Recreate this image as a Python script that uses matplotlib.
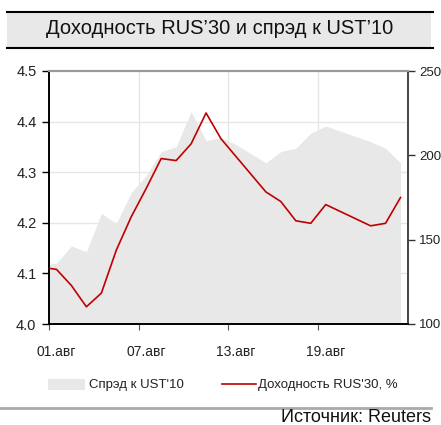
import numpy as np
import matplotlib
matplotlib.use("Agg")
from matplotlib import pyplot as plt
from matplotlib.patches import Rectangle
from matplotlib.lines import Line2D

plt.rcParams['font.family'] = ['Liberation Sans Narrow', 'Liberation Sans', 'DejaVu Sans']

# days: 31 Jul (0) .. 24 Aug
days = np.arange(0, 25)
rus30 = [4.112, 4.108, 4.076, 4.034, 4.061, 4.146, 4.212, 4.268, 4.327, 4.323,
         4.356, 4.417, 4.366, 4.331, 4.296, 4.261, 4.242, 4.204, 4.199, 4.236,
         4.222, 4.208, 4.194, 4.199, 4.250]
spread = [135, 136, 146.3, 142.9, 165.6, 159.6, 178, 188, 202.2, 205.1,
          226, 208.7, 210.5, 206.4, 201.0, 195.6, 202.2, 204.2, 213.1, 217.4,
          214.3, 211.2, 208.1, 204.2, 195.6]
tick_days = [1, 7, 13, 19]
tick_labels = ["01.авг", "07.авг", "13.авг", "19.авг"]

fig = plt.figure(figsize=(4.41, 4.25), dpi=100)

# title band
fig.patches.append(Rectangle((7/441, 1-47/425), 424/441, 36/425, transform=fig.transFigure,
                             facecolor="#e8e8e8", edgecolor="none", zorder=0))
fig.lines.append(Line2D([7/441, 433/441], [1-11.5/425]*2, transform=fig.transFigure, color="black", lw=1.5))
fig.lines.append(Line2D([7/441, 433/441], [1-47.5/425]*2, transform=fig.transFigure, color="black", lw=1.5))
fig.text(220/441, 1-29/425, "Доходность RUS’30 и спрэд к UST’10", ha="center", va="center",
         fontsize=14.5, color="#111111")

ax = fig.add_axes([49/441, 1-324/425, 359/441, 253/425])
ax2 = ax.twinx()
ax.set_zorder(ax2.get_zorder() + 1)
ax.patch.set_visible(False)

ax2.fill_between(days, spread, 100, color="#e8e8e8", lw=0, zorder=2)
ax2.set_ylim(100, 250)
ax2.set_yticks([100, 150, 200, 250])
ax.plot(days, rus30, color="#c00000", lw=1.2, zorder=3)
ax.set_ylim(4.0, 4.5)
ax.set_yticks([4.0, 4.1, 4.2, 4.3, 4.4, 4.5])
ax.set_xlim(days[1] - 0.5, days[-1] + 0.5)

# grid (behind the area)
for v in [4.1, 4.2, 4.3, 4.4]:
    ax2.axhline(100 + (v - 4.0) * 300, color="#e6e6e6", lw=1, zorder=1)
for d in tick_days[1:]:
    ax2.axvline(d - 0.5, color="#e6e6e6", lw=1, zorder=1)

ax.set_xticks([d - 0.5 for d in tick_days])
ax.set_xticklabels([])
ax.tick_params(axis="x", which="major", length=4, color="#555555", direction="out")
ax.set_xticks(tick_days, minor=True)
ax.set_xticklabels(tick_labels, minor=True)
ax.tick_params(axis="x", which="minor", length=0, labelsize=10, pad=15)
ax.tick_params(axis="y", length=5, width=1, labelsize=10.5, pad=4)
ax2.tick_params(axis="y", length=5, width=1, labelsize=9.5, pad=3, color="#333333")
for a in (ax, ax2):
    a.spines["top"].set_color("#999999")
    a.spines["top"].set_linewidth(1.5)
    a.spines["left"].set_color("black")
    a.spines["left"].set_linewidth(1.2)
    a.spines["bottom"].set_color("black")
    a.spines["bottom"].set_linewidth(1.2)
    a.spines["right"].set_color("#444444")
    a.spines["right"].set_linewidth(1.2)
for lbl in ax.get_yticklabels() + ax2.get_yticklabels() + ax.get_xticklabels(minor=True):
    lbl.set_color("#222222")

# legend
fig.patches.append(Rectangle((48/441, 1-390/425), 37/441, 11/425, transform=fig.transFigure,
                             facecolor="#e8e8e8", edgecolor="none"))
fig.text(89/441, 1-385/425, "Спрэд к UST'10", ha="left", va="center", fontsize=9.5, color="#222222")
fig.lines.append(Line2D([222/441, 256/441], [1-384/425]*2, transform=fig.transFigure, color="#c00000", lw=1.2))
fig.text(258/441, 1-385/425, "Доходность RUS'30, %", ha="left", va="center", fontsize=9.5, color="#222222")

fig.lines.append(Line2D([0, 431/441], [1-408/425]*2, transform=fig.transFigure, color="#aaaaaa", lw=2))
fig.text(431/441, 1-418/425, "Источник: Reuters", ha="right", va="center", fontsize=13, color="#111111")

fig.savefig("out.png", dpi=100)
